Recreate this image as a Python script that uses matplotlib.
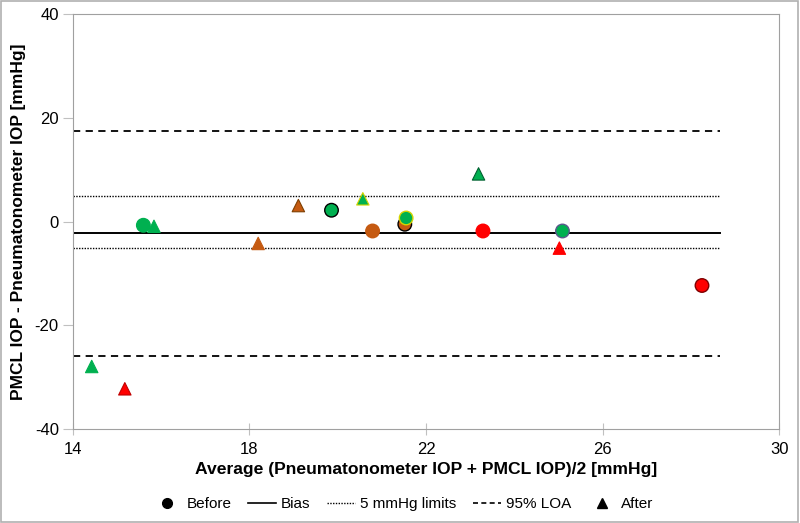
import matplotlib
matplotlib.use("Agg")
import matplotlib.pyplot as plt
from matplotlib.lines import Line2D
from matplotlib.patches import Rectangle

plt.rcParams['font.family'] = ['Liberation Sans', 'DejaVu Sans']
plt.rcParams['axes.unicode_minus'] = False

# Before (circles)
x_before = [15.6, 19.86, 20.79, 21.52, 21.55, 23.29, 25.09, 28.25]
y_before = [-0.7, 2.2, -1.8, -0.5, 0.7, -1.8, -1.8, -12.3]
fc_before = ['#00B050', '#00B050', '#C55A11', '#C55A11', '#00B050', '#FF0000', '#00B050', '#FF0000']
ec_before = ['#00B050', '#000000', '#C55A11', '#000000', '#D4D400', '#FF0000', '#5A5A8C', '#7F0000']

# After (triangles)
x_after = [14.43, 15.18, 15.84, 18.2, 19.11, 20.57, 23.19, 25.02]
y_after = [-27.9, -32.2, -0.9, -4.2, 3.1, 4.4, 9.2, -5.1]
fc_after = ['#00B050', '#FF0000', '#00B050', '#C55A11', '#C55A11', '#00B050', '#00B050', '#FF0000']
ec_after = ['#00B050', '#C00000', '#00B050', '#C55A11', '#7F3F00', '#D4D400', '#006030', '#FF0000']

bias = -2.1
limits = [5, -5]
loa = [17.4, -25.9]
line_x = [14, 28.65]

fig = plt.figure(figsize=(8, 5.23), dpi=100)
ax = fig.add_axes([0.0909, 0.1792, 0.8832, 0.794])

ax.plot(line_x, [bias, bias], color='black', lw=1.4, zorder=2)
for v in limits:
    ax.plot(line_x, [v, v], color='black', lw=1.0, linestyle=(0, (1, 1)), zorder=2)
for v in loa:
    ax.plot(line_x, [v, v], color='black', lw=1.3, linestyle=(0, (4, 3)), zorder=2)

ax.scatter(x_before, y_before, s=95, marker='o', c=fc_before, edgecolors=ec_before, linewidths=1.0, zorder=3)
ax.scatter(x_after, y_after, s=80, marker='^', c=fc_after, edgecolors=ec_after, linewidths=0.8, zorder=3)

ax.set_xlim(14, 30)
ax.set_ylim(-40, 40)
ax.set_xticks([14, 18, 22, 26, 30])
ax.set_yticks([-40, -20, 0, 20, 40])
for s in ax.spines.values():
    s.set_color('#A0A0A0')
ax.tick_params(axis='x', direction='inout', length=8, color='#C0C0C0', labelsize=12, pad=5)
ax.tick_params(axis='y', direction='out', length=7, color='#C0C0C0', labelsize=12, pad=3)

ax.set_xlabel('Average (Pneumatonometer IOP + PMCL IOP)/2 [mmHg]', fontsize=12.6, fontweight='bold', labelpad=4)
ax.set_ylabel('PMCL IOP - Pneumatonometer IOP [mmHg]', fontsize=12.5, fontweight='bold', labelpad=6)

handles = [
    Line2D([], [], marker='o', color='black', linestyle='none', markersize=7),
    Line2D([], [], color='black', lw=1.2),
    Line2D([], [], color='black', lw=1.0, linestyle=(0, (1, 1))),
    Line2D([], [], color='black', lw=1.2, linestyle=(0, (3, 2))),
    Line2D([], [], marker='^', color='black', linestyle='none', markersize=7),
]
labels = ['Before', 'Bias', '5 mmHg limits', '95% LOA', 'After']
fig.legend(handles, labels, loc='center', bbox_to_anchor=(0.504, 0.036), ncol=5,
           frameon=False, fontsize=11, handlelength=1.85, handletextpad=0.35, columnspacing=1.05)

fig.patches.append(Rectangle((0.001, 0.001), 0.997, 0.997, transform=fig.transFigure,
                             fill=False, edgecolor='#B0B0B0', lw=1.2))

fig.savefig('out.png', dpi=100)
